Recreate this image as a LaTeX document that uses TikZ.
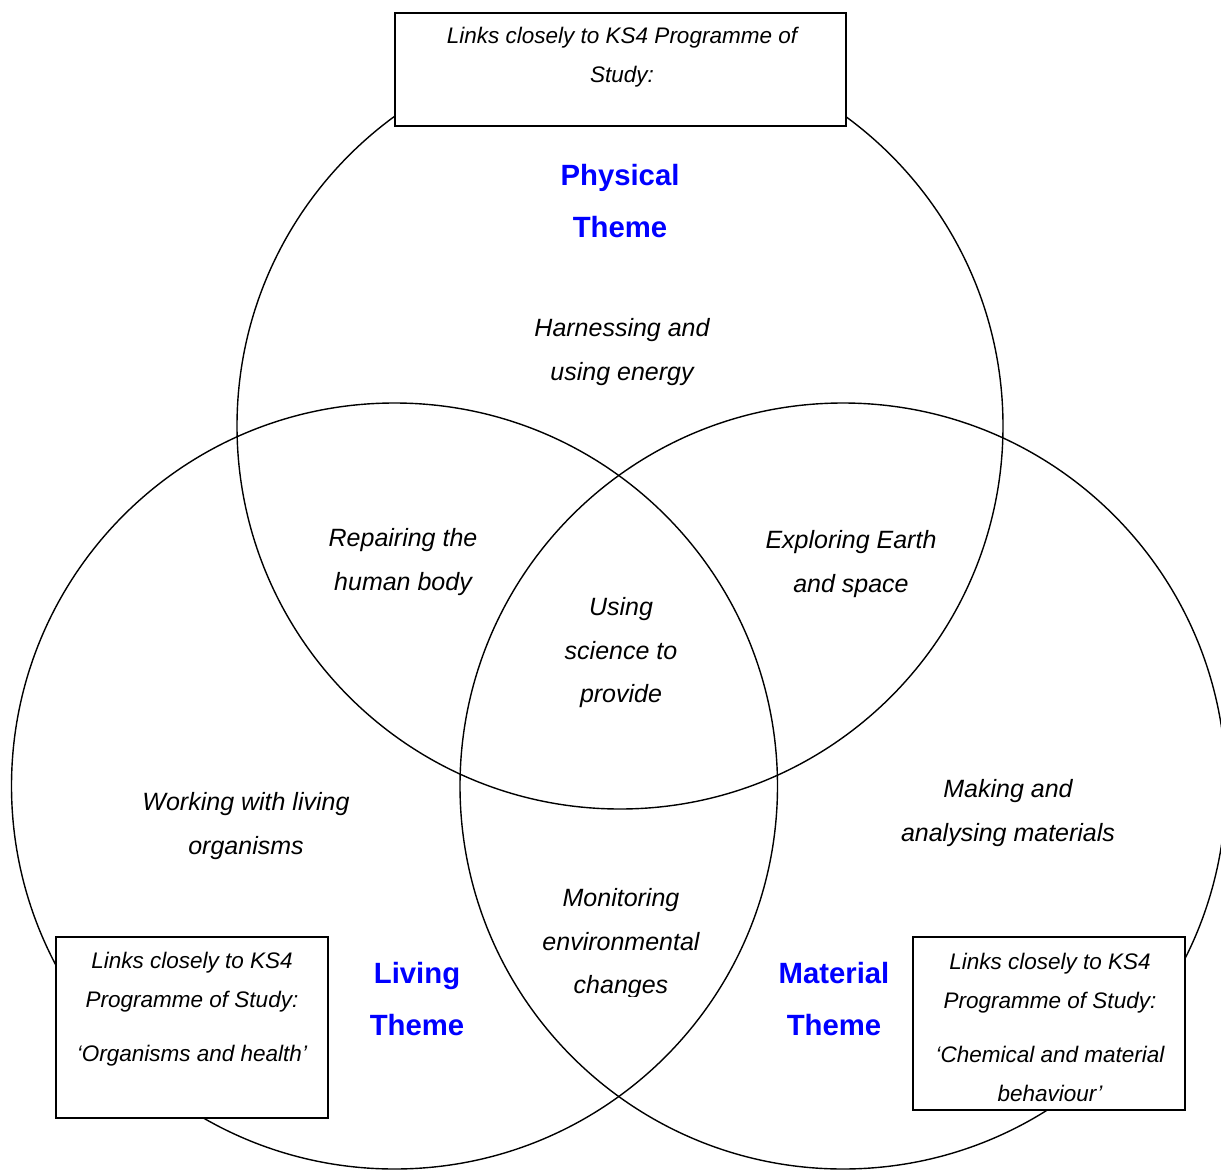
\documentclass[tikz,border=0pt]{standalone}
\usepackage{fontspec}
\setmainfont{Liberation Sans}
\begin{document}
\begin{tikzpicture}[x=1pt,y=-1pt,
  ring/.style={circle,draw,line width=1.4pt,minimum size=766pt,inner sep=0pt},
  kbox/.style={draw,fill=white,line width=1.7pt,inner sep=0pt},
  lbl/.style={font=\fontsize{25}{43.5}\selectfont\itshape,align=center,inner sep=0pt},
  btxt/.style={font=\fontsize{22.5}{39}\selectfont\itshape,align=center,inner sep=0pt},
  theme/.style={font=\fontsize{29.3}{52.5}\selectfont\bfseries,text=blue,align=center,inner sep=0pt}]
\useasboundingbox (0,0) rectangle (1221,1170);
% circles
\node[ring] (phys) at (620,426) {};
\node[ring] (liv) at (394.5,786) {};
\node[ring] (mat) at (843,786) {};
% boxes
\node[kbox,minimum width=451pt,minimum height=113pt] (topbox) at (620.5,69.5) {};
\node[kbox,minimum width=272pt,minimum height=181pt] (lbox) at (192,1027.5) {};
\node[kbox,minimum width=272pt,minimum height=173pt] (rbox) at (1049,1023.5) {};
% box texts
\node[btxt] (toptxt) at (622,57) {Links closely to KS4 Programme of\\Study:};
\node[btxt] (ltxt) at (192,1009) {Links closely to KS4\\Programme of Study:\\[15pt]‘Organisms and health’};
\node[btxt] (rtxt) at (1050,1027) {Links closely to KS4\\Programme of Study:\\[15pt]‘Chemical and material\\behaviour’};
% themes
\node[theme] (pth) at (620,201) {Physical\\Theme};
\node[theme] (lth) at (417,999) {Living\\Theme};
\node[theme] (mth) at (834,999) {Material\\Theme};
% region labels
\node[lbl] (harn) at (622,352) {Harnessing and\\using energy};
\node[lbl] (rep) at (403,562) {Repairing the\\human body};
\node[lbl] (expl) at (851,564) {Exploring Earth\\and space};
\node[lbl] (using) at (621,653) {Using\\science to\\provide};
\node[lbl] (work) at (246,826) {Working with living\\organisms};
\node[lbl] (make) at (1008,813) {Making and\\analysing materials};
\begin{scope}
\clip (480,860) rectangle (760,996);
\node[lbl] (mon) at (621,944) {Monitoring\\environmental\\changes};
\end{scope}
\end{tikzpicture}
\end{document}
